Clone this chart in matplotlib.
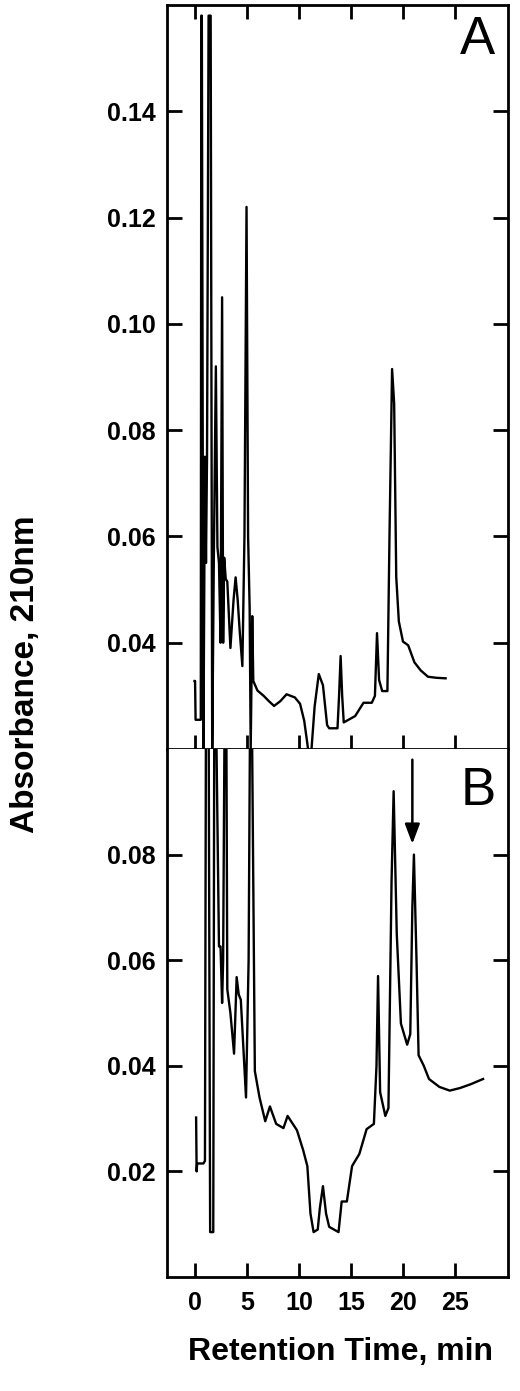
import matplotlib
matplotlib.use("Agg")
import matplotlib.pyplot as plt

plt.rcParams['font.family'] = ['Liberation Sans', 'DejaVu Sans']

# Panel A chromatogram
tA = [-0.05, 0.0, 0.05, 0.55, 0.6, 0.65, 0.8, 0.95, 1.05, 1.15, 1.3, 1.5, 1.65, 1.8, 2.0, 2.15, 2.3, 2.45, 2.6, 2.7, 2.8, 2.95,
      3.1, 3.4, 3.7, 3.9, 4.1, 4.3, 4.55, 4.75, 4.95, 5.1, 5.25, 5.35, 5.5, 5.6, 6.0, 6.6, 7.1, 7.6, 8.2, 8.8, 9.6,
      10.1, 10.5, 10.8, 11.0, 11.2, 11.5, 11.9, 12.3, 12.7, 12.9, 13.7, 13.85, 14.0, 14.15, 14.3, 15.4, 16.2, 17.0,
      17.3, 17.5, 17.7, 18.0, 18.5, 18.7, 18.95, 19.15, 19.35, 19.6, 20.0, 20.3, 20.5, 21.1, 21.7, 22.4, 23.2, 24.1]
aA = [0.0328, 0.0328, 0.0255, 0.0255, 0.158, 0.158, 0.019, 0.075, 0.055, 0.075, 0.158, 0.158, 0.019, 0.055, 0.092, 0.058, 0.055, 0.040, 0.105, 0.040, 0.056, 0.052,
      0.0515, 0.039, 0.048, 0.0523, 0.048, 0.042, 0.0356, 0.060, 0.122, 0.060, 0.0465, 0.020, 0.045, 0.0328, 0.031, 0.0300, 0.0290, 0.0281, 0.0290, 0.0303, 0.0297,
      0.0285, 0.0253, 0.021, 0.0180, 0.020, 0.028, 0.0341, 0.032, 0.0245, 0.0239, 0.0239, 0.030, 0.0375, 0.030, 0.0250, 0.0262, 0.0287, 0.0287,
      0.030, 0.0418, 0.033, 0.0309, 0.0309, 0.060, 0.0915, 0.085, 0.0524, 0.044, 0.0402, 0.0398, 0.0395, 0.0363, 0.0348, 0.0336, 0.0334, 0.0333]

# Panel B chromatogram
tB = [0.1, 0.15, 0.2, 0.8, 0.95, 1.05, 1.3, 1.45, 1.75, 1.85, 2.0, 2.3, 2.45, 2.6, 2.7, 2.85, 3.0, 3.1, 3.4, 3.75, 4.0, 4.2, 4.4, 4.9,
      5.15, 5.3, 5.45, 5.75, 6.2, 6.75, 7.2, 7.8, 8.5, 8.9, 9.8, 10.4, 10.8, 11.1, 11.4, 11.8, 12.0, 12.3, 12.6, 12.9, 13.8,
      14.1, 14.2, 14.6, 15.1, 15.8, 16.5, 17.2, 17.45, 17.6, 17.8, 18.3, 18.6, 18.9, 19.1, 19.4, 19.8, 20.4, 20.7, 20.9, 21.05, 21.3, 21.5,
      22.0, 22.5, 23.5, 24.5, 25.5, 26.5, 27.7]
aB = [0.0302, 0.020, 0.0215, 0.0215, 0.022, 0.11, 0.11, 0.0085, 0.0085, 0.11, 0.11, 0.0626, 0.0626, 0.0519, 0.06, 0.11, 0.11, 0.0545, 0.050, 0.0423, 0.0568, 0.0535, 0.0525, 0.034,
      0.060, 0.11, 0.11, 0.039, 0.034, 0.0295, 0.0323, 0.0290, 0.0282, 0.0305, 0.0278, 0.024, 0.0210, 0.012, 0.0085, 0.009, 0.013, 0.0172, 0.012, 0.0095, 0.0085,
      0.0143, 0.0143, 0.0143, 0.021, 0.0233, 0.028, 0.029, 0.040, 0.057, 0.035, 0.0305, 0.032, 0.075, 0.092, 0.065, 0.048, 0.044, 0.046, 0.070, 0.080, 0.060, 0.042,
      0.040, 0.0375, 0.0360, 0.0353, 0.0358, 0.0365, 0.0375]

fig = plt.figure(figsize=(5.2, 13.91), dpi=100)
L, R = 167/520, 508/520
yb_top = 1 - 749/1391
yb_bot = 1 - 1277/1391
ya_top = 1 - 5/1391
axA = fig.add_axes([L, yb_top, R - L, ya_top - yb_top])
axB = fig.add_axes([L, yb_bot, R - L, yb_top - yb_bot])

axA.plot(tA, aA, color="black", lw=1.7, clip_on=False, zorder=5)
axB.plot(tB, aB, color="black", lw=1.7)

axA.set_xlim(-2.7, 30.1); axB.set_xlim(-2.7, 30.1)
axA.set_ylim(0.02, 0.16); axB.set_ylim(0.0, 0.1)
axA.set_yticks([0.04, 0.06, 0.08, 0.10, 0.12, 0.14])
axB.set_yticks([0.02, 0.04, 0.06, 0.08])
xt = [0, 5, 10, 15, 20, 25]
axA.set_xticks(xt); axB.set_xticks(xt)
axA.set_xticklabels([])
axB.set_xticklabels([str(v) for v in xt])
axA.set_yticklabels(["%.2f" % v for v in axA.get_yticks()])
axB.set_yticklabels(["%.2f" % v for v in axB.get_yticks()])

for ax in (axA, axB):
    for s in ax.spines.values():
        s.set_linewidth(2)
    ax.tick_params(direction="in", length=11, width=2, right=True, labelsize=18, pad=8)
    for lab in ax.get_yticklabels() + ax.get_xticklabels():
        lab.set_fontweight("bold")
axA.tick_params(axis="x", top=True, bottom=True, length=10)
axB.tick_params(axis="x", top=False, bottom=True, length=10, pad=10)
axB.spines["top"].set_visible(False)

axA.text(27.2, 0.1535, "A", fontsize=38, ha="center", va="center")
axB.text(27.2, 0.092, "B", fontsize=38, ha="center", va="center")
axB.annotate("", xy=(20.9, 0.0815), xytext=(20.9, 0.0985),
             arrowprops=dict(arrowstyle="-|>,head_width=0.45,head_length=1.2", color="black", lw=1.8))

fig.text(0.05, 0.515, "Absorbance, 210nm", rotation=90, fontsize=24, fontweight="bold",
         ha="center", va="center")
fig.text(0.655, 1 - 1352/1391, "Retention Time, min", fontsize=23, fontweight="bold",
         ha="center", va="center")

fig.savefig("out.png", dpi=100)
